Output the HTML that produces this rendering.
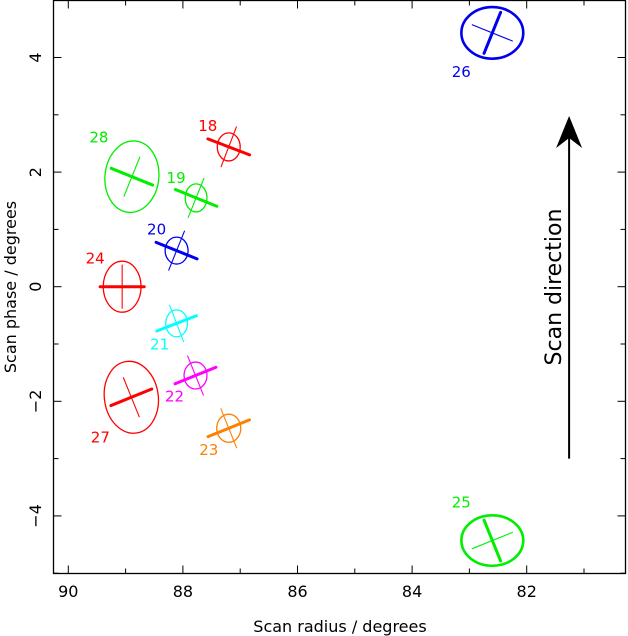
<!DOCTYPE html>
<html><head><meta charset="utf-8"><style>
html,body{margin:0;padding:0;background:#fff;}
svg{display:block;font-family:"DejaVu Sans","Liberation Sans",sans-serif;}
</style></head><body>
<svg id="chart" width="628" height="636" viewBox="0 0 628 636" xmlns="http://www.w3.org/2000/svg">
<g id="marks"></g>
<g id="axes"></g>
</svg>
<script>
// data
const ids = ["18","19","20","24","28","21","22","27","23","26","25"];
const colors = ["#ff0000","#00ee00","#0000ee","#ff0000","#00ee00","#00ffff","#ff00ff","#ff0000","#ff8000","#0000ee","#00ee00"];
const radius = [87.20,87.77,88.11,89.06,88.89,88.11,87.78,88.90,87.20,82.60,82.60];
const phase = [2.44,1.55,0.63,0.00,1.92,-0.64,-1.55,-1.93,-2.47,4.43,-4.43];
const semiRadius = [0.20,0.19,0.20,0.33,0.47,0.19,0.20,0.47,0.21,0.54,0.54];
const semiPhase = [0.245,0.245,0.235,0.445,0.625,0.235,0.235,0.63,0.245,0.45,0.44];
const ellipseTilt = [0,0,0,0,6,0,0,-8,0,0,0];
const majorLen = [0.78,0.78,0.77,0.77,0.78,0.74,0.77,0.77,0.78,0.77,0.77];
const majorAngle = [21,22,22,0,22,-21,-22,-22,-22,112,68];
const minorLen = [0.76,0.75,0.75,0.77,0.75,0.70,0.75,0.75,0.75,0.77,0.77];
const labelDx = [-21,-20,-20,-27,-33,-17,-21,-31,-20,-31,-31];
const labelDy = [-21,-20,-21,-28,-39,21,21,40,22,39,-38];
const xTicks = [90,88,86,84,82];
const yTicks = [4,2,0,-2,-4];
const arrowRadius = 81.26, arrowFrom = -3.0, arrowTo = 2.98;

const L=53.5,R=625.5,T=0.5,B=573.5;
const X=v=>68.3+(90-v)*57.3;
const Y=v=>286.7-v*57.3;
const S=57.3;
const NS="http://www.w3.org/2000/svg";
function mk(parent,tag,attrs){const e=document.createElementNS(NS,tag);for(const k in attrs)e.setAttribute(k,attrs[k]);parent.appendChild(e);return e;}
const marks=document.getElementById('marks'), axes=document.getElementById('axes');

ids.forEach((id,i)=>{
  const cx=X(radius[i]),cy=Y(phase[i]),c=colors[i];
  const g=mk(marks,'g',{});
  
  
  const big=(id==="25"||id==="26");
  const el=mk(g,'ellipse',{cx:cx,cy:cy,rx:semiRadius[i]*S,ry:semiPhase[i]*S,fill:'none',stroke:c,'stroke-width':big?2.6:1.3,transform:`rotate(${ellipseTilt[i]} ${cx} ${cy})`});
  
  
  const a=majorAngle[i]*Math.PI/180, h=majorLen[i]*S/2;
  const ln=mk(g,'line',{x1:cx-h*Math.cos(a),y1:cy-h*Math.sin(a),x2:cx+h*Math.cos(a),y2:cy+h*Math.sin(a),stroke:c,'stroke-width':3,'stroke-linecap':'round'});
  
  
  const b=a+Math.PI/2, m=minorLen[i]*S/2;
  const ln2=mk(g,'line',{x1:cx-m*Math.cos(b),y1:cy-m*Math.sin(b),x2:cx+m*Math.cos(b),y2:cy+m*Math.sin(b),stroke:c,'stroke-width':1.1});
  
  
  const t=mk(g,'text',{x:cx+labelDx[i],y:cy+labelDy[i]+5,fill:c,'font-size':15,'text-anchor':'middle'});
  t.textContent=id;
  
  
});

// arrow
const ax=X(arrowRadius),ay1=Y(arrowFrom),ay2=Y(arrowTo);
const arr=mk(marks,'g',{});


mk(arr,'line',{x1:ax,y1:ay1,x2:ax,y2:ay2+20,stroke:'#000','stroke-width':2});
mk(arr,'polygon',{points:`${ax},${ay2} ${ax-13},${ay2+32} ${ax},${ay2+22} ${ax+13},${ay2+32}`,fill:'#000'});
const st=mk(marks,'text',{x:0,y:0,'font-size':22,'text-anchor':'middle',fill:'#000',transform:`translate(561,287) rotate(-90)`});
st.textContent='Scan direction';



// frame
const fr=mk(axes,'rect',{x:L,y:T,width:R-L,height:B-T,fill:'none',stroke:'#000','stroke-width':1.3});


for(let v=90;v>=81;v--){const x=X(v),len=(v%2===0)?8:5;
  mk(axes,'line',{x1:x,y1:B,x2:x,y2:B-len,stroke:'#000','stroke-width':1});
  mk(axes,'line',{x1:x,y1:T,x2:x,y2:T+len,stroke:'#000','stroke-width':1});}
for(let v=-5;v<=5;v++){const y=Y(v);if(y<T||y>B)continue;const len=(v%2===0)?8:5;
  mk(axes,'line',{x1:L,y1:y,x2:L+len,y2:y,stroke:'#000','stroke-width':1});
  mk(axes,'line',{x1:R,y1:y,x2:R-len,y2:y,stroke:'#000','stroke-width':1});}
xTicks.forEach(v=>{const t=mk(axes,'text',{x:X(v),y:597,'font-size':16,'text-anchor':'middle',fill:'#000'});t.textContent=v;
  
  });
yTicks.forEach(v=>{const t=mk(axes,'text',{x:0,y:0,'font-size':16,'text-anchor':'middle',fill:'#000',transform:`translate(41,${Y(v)}) rotate(-90)`});t.textContent=(v<0?'\u2212'+(-v):v);
  
  });
const xt=mk(axes,'text',{x:340,y:632,'font-size':16,'text-anchor':'middle',fill:'#000'});xt.textContent='Scan radius  /  degrees';


const yt=mk(axes,'text',{x:0,y:0,'font-size':16,'text-anchor':'middle',fill:'#000',transform:'translate(16,287) rotate(-90)'});yt.textContent='Scan phase  /  degrees';


</script>
</body></html>
